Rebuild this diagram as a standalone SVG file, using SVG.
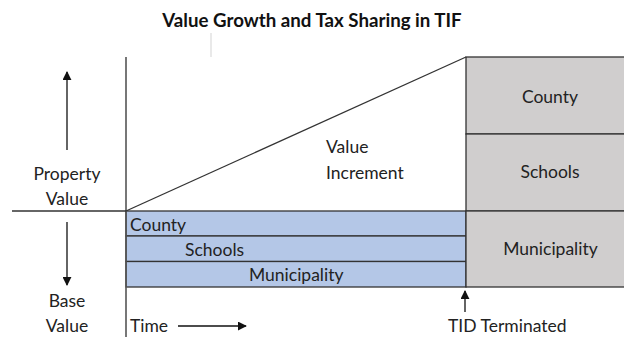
<svg xmlns="http://www.w3.org/2000/svg" width="624" height="337" viewBox="0 0 624 337">
<style>
text{font-family:Lato,"Open Sans","Liberation Sans",sans-serif;font-size:17.5px;fill:#222}
.title{font-weight:bold;font-size:18.7px;fill:#111}
.ln{stroke:#333;stroke-width:1.3;fill:none}
.ax{stroke:#555;stroke-width:1.6;fill:none}
.blue{fill:#B4C7E7;stroke:#333;stroke-width:1.3}
.gray{fill:#D0CECE;stroke:#333;stroke-width:1.3}
.arr{stroke:#111;stroke-width:1.3;fill:none}
.m{text-anchor:middle}
</style>
<defs>
<marker id="ah" viewBox="0 0 10 10" refX="9" refY="5" markerWidth="9" markerHeight="9" markerUnits="userSpaceOnUse" orient="auto">
<path d="M0,0 L10,5 L0,10 z" fill="#111"/>
</marker>
</defs>
<text class="title m" x="312" y="26.5">Value Growth and Tax Sharing in TIF</text>
<line x1="211" y1="33" x2="211" y2="57" stroke="#ddd" stroke-width="1.3"/>
<g id="base-bars">
<g id="bar-county"><rect class="blue" x="126" y="211" width="340" height="25"/><text x="130" y="231">County</text></g>
<g id="bar-schools"><rect class="blue" x="126" y="236" width="340" height="25.5"/><text x="185" y="256">Schools</text></g>
<g id="bar-municipality"><rect class="blue" x="126" y="261.5" width="340" height="25.5"/><text x="249" y="281">Municipality</text></g>
</g>
<g id="after-tif">
<g id="box-county"><rect class="gray" x="466" y="57" width="160" height="77"/><text class="m" x="550" y="103">County</text></g>
<g id="box-schools"><rect class="gray" x="466" y="134" width="160" height="77"/><text class="m" x="550" y="178">Schools</text></g>
<g id="box-municipality"><rect class="gray" x="466" y="211" width="160" height="76"/><text class="m" x="550.5" y="255">Municipality</text></g>
</g>
<g id="labels">
<text class="m" x="67" y="180">Property</text>
<text class="m" x="67" y="205">Value</text>
<text class="m" x="67" y="307">Base</text>
<text class="m" x="67" y="332">Value</text>
<text x="326" y="153">Value</text>
<text x="326" y="179">Increment</text>
<text x="130" y="332">Time</text>
<text x="448" y="332">TID Terminated</text>
</g>
<g id="connectors">
<line class="ax" x1="126" y1="57" x2="126" y2="337"/>
<line class="ln" x1="12" y1="211" x2="126" y2="211"/>
<line class="ln" x1="126" y1="211" x2="466" y2="57"/>
<line class="arr" x1="67" y1="150" x2="67" y2="72" marker-end="url(#ah)"/>
<line class="arr" x1="67" y1="222" x2="67" y2="285" marker-end="url(#ah)"/>
<line class="arr" x1="178" y1="326" x2="246" y2="326" marker-end="url(#ah)"/>
<line class="arr" x1="465" y1="312" x2="465" y2="291" marker-end="url(#ah)"/>
</g>
</svg>
